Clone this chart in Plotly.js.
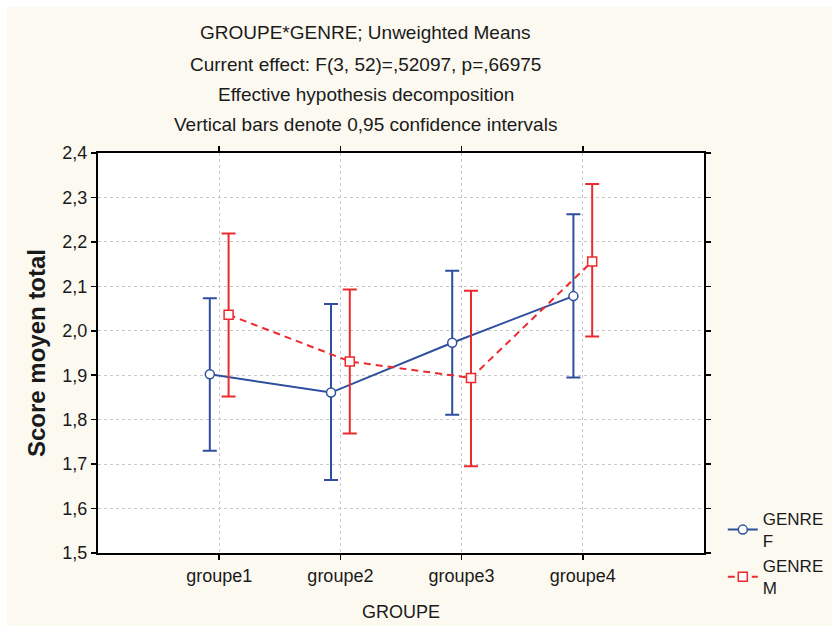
<!DOCTYPE html>
<html>
<head>
<meta charset="utf-8">
<script src="https://cdn.plot.ly/plotly-3.0.1.min.js"></script>
<style>
  html, body { margin: 0; padding: 0; background: #ffffff; }
  #chart { position: absolute; left: 7px; top: 7px; width: 825px; height: 619px; }
</style>
</head>
<body>
<div id="chart"></div>
<script>
const groups = ["groupe1", "groupe2", "groupe3", "groupe4"];
const meanF = [1.902, 1.861, 1.973, 2.078];
const upperF = [2.073, 2.060, 2.135, 2.262];
const lowerF = [1.730, 1.664, 1.811, 1.895];
const meanM = [2.036, 1.931, 1.894, 2.156];
const upperM = [2.219, 2.093, 2.090, 2.330];
const lowerM = [1.852, 1.769, 1.695, 1.987];
const yTicks = [1.5, 1.6, 1.7, 1.8, 1.9, 2.0, 2.1, 2.2, 2.3, 2.4];
const yTickText = ["1,5", "1,6", "1,7", "1,8", "1,9", "2,0", "2,1", "2,2", "2,3", "2,4"];
const titleLines = [
  "GROUPE*GENRE; Unweighted Means",
  "Current effect: F(3, 52)=,52097, p=,66975",
  "Effective hypothesis decomposition",
  "Vertical bars denote 0,95 confidence intervals"
];

const blue = "#2f4f9e";
const red = "#ec2a2e";
const font = "Liberation Sans, Arial, sans-serif";

function trace(name, mean, up, lo, color, symbol, dash) {
  return {
    type: "scatter",
    mode: "lines+markers",
    name: name,
    x: groups,
    y: mean,
    offsetgroup: name,
    line: { color: color, width: 2, dash: dash },
    marker: { symbol: symbol, size: 9, color: "#ffffff", line: { color: color, width: 1.5 } },
    error_y: {
      type: "data",
      symmetric: false,
      array: up.map((u, i) => u - mean[i]),
      arrayminus: lo.map((l, i) => mean[i] - l),
      color: color,
      thickness: 2,
      width: 7
    }
  };
}

const data = [
  trace("GENRE<br>F", meanF, upperF, lowerF, blue, "circle", "solid"),
  trace("GENRE<br>M", meanM, upperM, lowerM, red, "square", "7px,5px")
];

const titleY = [1.30, 1.2225, 1.1475, 1.07];
const annotations = titleLines.map((t, i) => ({
  text: t, xref: "paper", yref: "paper", x: 0.442, y: titleY[i],
  xanchor: "center", yanchor: "middle", showarrow: false,
  font: { family: "Liberation Sans Narrow, Arial Narrow, Liberation Sans, sans-serif", size: 19, color: "#1a1a1a" }
}));

const layout = {
  width: 825, height: 619,
  paper_bgcolor: "#fcf9f1",
  plot_bgcolor: "#ffffff",
  margin: { l: 91, r: 128, t: 146, b: 73, autoexpand: false },
  font: { family: font, size: 18, color: "#1a1a1a" },
  showlegend: true,
  scattermode: "group",
  scattergap: 0.69,
  legend: {
    x: 1.031, xanchor: "left", y: 0.13, yanchor: "top",
    bgcolor: "rgba(0,0,0,0)", font: { family: font, size: 17, color: "#1a1a1a" },
    tracegroupgap: 0
  },
  xaxis: {
    type: "category",
    range: [-1, 4],
    automargin: false,
    showline: true, linecolor: "#000000", linewidth: 2, mirror: "ticks",
    ticks: "outside", ticklen: 5, tickwidth: 1.5, tickcolor: "#000000",
    showgrid: true, gridcolor: "#c8c8c8", gridwidth: 1, griddash: "dot",
    zeroline: false,
    tickfont: { family: font, size: 18 },
    title: { text: "GROUPE", font: { family: font, size: 18 }, standoff: 21 }
  },
  yaxis: {
    range: [1.5, 2.4],
    automargin: false,
    tickvals: yTicks, ticktext: yTickText,
    showline: true, linecolor: "#000000", linewidth: 2, mirror: "ticks",
    ticks: "outside", ticklen: 5, tickwidth: 1.5, tickcolor: "#000000",
    showgrid: true, gridcolor: "#c8c8c8", gridwidth: 1, griddash: "dot",
    zeroline: false,
    tickfont: { family: font, size: 18 },
    title: { text: "<b>Score moyen total</b>", font: { family: font, size: 24 }, standoff: 10 }
  },
  annotations: annotations
};

Plotly.newPlot("chart", data, layout, { displayModeBar: false, staticPlot: true });
</script>
</body>
</html>
